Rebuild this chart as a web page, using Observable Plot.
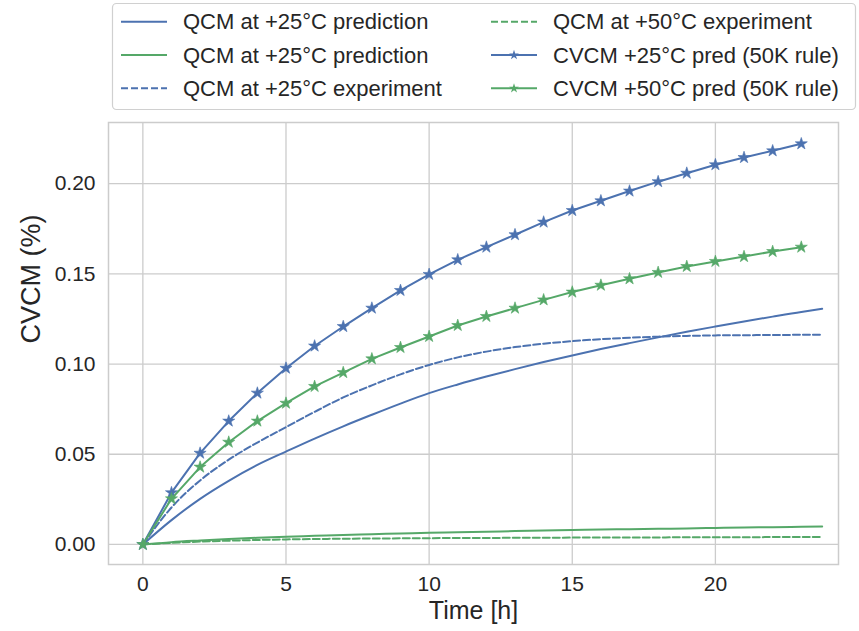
<!DOCTYPE html>
<html>
<head>
<meta charset="utf-8">
<script src="https://cdn.jsdelivr.net/npm/d3@7"></script>
<script src="https://cdn.jsdelivr.net/npm/@observablehq/plot@0.6"></script>
<style>
  html, body { margin: 0; padding: 0; background: #fff; }
  #wrap { position: relative; width: 859px; height: 631px; overflow: hidden; font-family: "Liberation Sans", Arial, sans-serif; color: #262626; }
  #legend { position: absolute; left: 0; top: 0; }
  #chart { position: absolute; left: 0; top: 115px; }
</style>
</head>
<body>
<div id="wrap"><div id="legend"></div><div id="chart"></div></div>
<script>
// ---- data ----
const hours = [0,1,2,3,4,5,6,7,8,9,10,11,12,13,14,15,16,17,18,19,20,21,22,23];
const qcmTime = [0,1,2,3,4,5,6,7,8,9,10,11,12,13,14,15,16,17,18,19,20,21,22,23,23.73];
const qcm25Pred = [0,0.0135,0.0253,0.0353,0.0441,0.0515,0.0587,0.0655,0.0719,0.0781,0.0839,0.0887,0.0931,0.0972,0.1011,0.1048,0.1083,0.1116,0.1148,0.1179,0.1208,0.1236,0.1263,0.1289,0.1306];
const qcm50Pred = [0,0.0013,0.0022,0.003,0.0037,0.0043,0.0048,0.0053,0.0057,0.0061,0.0065,0.0068,0.0071,0.0074,0.0077,0.008,0.0083,0.0085,0.0087,0.0089,0.0092,0.0094,0.0096,0.0098,0.01];
const qcm25Exp = [0,0.0205,0.0355,0.047,0.0565,0.065,0.0735,0.0815,0.0882,0.0943,0.0995,0.1037,0.1069,0.1094,0.1113,0.1127,0.1138,0.1146,0.1152,0.1156,0.1159,0.116,0.1161,0.1162,0.1162];
const qcm50Exp = [0,0.0009,0.0016,0.0021,0.0025,0.0028,0.003,0.0032,0.0033,0.0034,0.0035,0.0036,0.0036,0.0037,0.0037,0.0038,0.0038,0.0039,0.0039,0.004,0.004,0.004,0.0041,0.0041,0.0041];
const cvcm25 = [0,0.0287,0.0506,0.0684,0.0839,0.0977,0.11,0.1208,0.131,0.1408,0.1497,0.1578,0.1648,0.1717,0.1787,0.1851,0.1905,0.1959,0.2011,0.2058,0.2105,0.2145,0.2182,0.2221];
const cvcm50 = [0,0.0253,0.0429,0.0567,0.0684,0.0783,0.0876,0.0953,0.1029,0.1092,0.1153,0.1214,0.1264,0.131,0.1356,0.1399,0.1437,0.1473,0.1508,0.1541,0.1569,0.1596,0.1624,0.1648];
const seriesNames = ["QCM at +25°C prediction","QCM at +25°C prediction","QCM at +25°C experiment","QCM at +50°C experiment","CVCM +25°C pred (50K rule)","CVCM +50°C pred (50K rule)"];
const xTicks = [0,5,10,15,20];
const yTicks = [0,0.05,0.10,0.15,0.20];
const xLabel = "Time [h]";
const yLabel = "CVCM (%)";

const BLUE = "#4C72B0", GREEN = "#55A868", GRID = "#cccccc", INK = "#262626";
const FONT = '"Liberation Sans", Arial, sans-serif';
const DASH = "7,3";
const LW = 2;

const toRows = (xs, ys) => xs.map((t, i) => ({t, v: ys[i]}));
const s1 = toRows(qcmTime, qcm25Pred);
const s2 = toRows(qcmTime, qcm50Pred);
const s3 = toRows(qcmTime, qcm25Exp);
const s4 = toRows(qcmTime, qcm50Exp);
const s5 = toRows(hours, cvcm25);
const s6 = toRows(hours, cvcm50);

const chart = Plot.plot({
  width: 859, height: 516,
  marginTop: 7, marginBottom: 67, marginLeft: 108, marginRight: 21,
  style: {fontFamily: FONT, fontSize: "21px", color: INK, background: "white", overflow: "visible"},
  x: {domain: [-1.2, 24.3]},
  y: {domain: [-0.0111, 0.2339]},
  marks: [
    Plot.gridX(xTicks, {stroke: GRID, strokeOpacity: 1, strokeWidth: 1.3}),
    Plot.gridY(yTicks, {stroke: GRID, strokeOpacity: 1, strokeWidth: 1.3}),
    Plot.frame({stroke: GRID, strokeWidth: 1.5}),
    Plot.axisX(xTicks, {tickSize: 0, tickPadding: 12, label: null, fontSize: 21}),
    Plot.axisY(yTicks, {tickSize: 0, tickPadding: 13, label: null, tickFormat: d3.format(".2f"), fontSize: 21}),
    Plot.line(s1, {x: "t", y: "v", stroke: BLUE, strokeWidth: LW, curve: "monotone-x"}),
    Plot.line(s2, {x: "t", y: "v", stroke: GREEN, strokeWidth: LW, curve: "monotone-x"}),
    Plot.line(s3, {x: "t", y: "v", stroke: BLUE, strokeWidth: LW, strokeDasharray: DASH, curve: "monotone-x"}),
    Plot.line(s4, {x: "t", y: "v", stroke: GREEN, strokeWidth: LW, strokeDasharray: DASH, curve: "monotone-x"}),
    Plot.line(s5, {x: "t", y: "v", stroke: BLUE, strokeWidth: LW}),
    Plot.dot(s5, {x: "t", y: "v", symbol: "star", r: 3.8, fill: BLUE, stroke: BLUE, strokeWidth: 0.6}),
    Plot.line(s6, {x: "t", y: "v", stroke: GREEN, strokeWidth: LW}),
    Plot.dot(s6, {x: "t", y: "v", symbol: "star", r: 3.8, fill: GREEN, stroke: GREEN, strokeWidth: 0.6}),
    Plot.text([xLabel], {text: d => d, frameAnchor: "bottom", dy: 46, fontSize: 25, fill: INK, lineAnchor: "middle"}),
    Plot.text([yLabel], {text: d => d, frameAnchor: "left", dx: -77, rotate: -90, fontSize: 27, fill: INK, lineAnchor: "middle"})
  ]
});
document.getElementById("chart").appendChild(chart);

// ---- legend (above the chart) ----
const legendItems = [
  {name: seriesNames[0], color: BLUE, dash: null, star: false},
  {name: seriesNames[1], color: GREEN, dash: null, star: false},
  {name: seriesNames[2], color: BLUE, dash: DASH, star: false},
  {name: seriesNames[3], color: GREEN, dash: DASH, star: false},
  {name: seriesNames[4], color: BLUE, dash: null, star: true},
  {name: seriesNames[5], color: GREEN, dash: null, star: true}
];
const lsvg = d3.create("svg").attr("width", 859).attr("height", 115)
  .style("font-family", FONT).style("display", "block");
lsvg.append("rect").attr("x", 112.5).attr("y", 3.5).attr("width", 743).attr("height", 106)
  .attr("rx", 4).attr("fill", "white").attr("stroke", "#d0d0d0").attr("stroke-width", 1.2);
const colX = [121, 491];
const rowY = [21.7, 55, 88.3];
const starPath = d3.symbol(d3.symbolStar, 30)();
legendItems.forEach((it, i) => {
  const c = Math.floor(i / 3), r = i % 3;
  const x0 = colX[c], y0 = rowY[r];
  const g = lsvg.append("g");
  g.append("line").attr("x1", x0).attr("x2", x0 + 46).attr("y1", y0).attr("y2", y0)
    .attr("stroke", it.color).attr("stroke-width", LW)
    .attr("stroke-dasharray", it.dash);
  if (it.star) {
    g.append("path").attr("d", starPath).attr("transform", `translate(${x0 + 23},${y0})`)
      .attr("fill", it.color);
  }
  g.append("text").attr("x", x0 + 62).attr("y", y0).attr("dy", "0.35em")
    .attr("font-size", 22).attr("fill", INK).text(it.name);
});
document.getElementById("legend").appendChild(lsvg.node());
</script>
</body>
</html>
